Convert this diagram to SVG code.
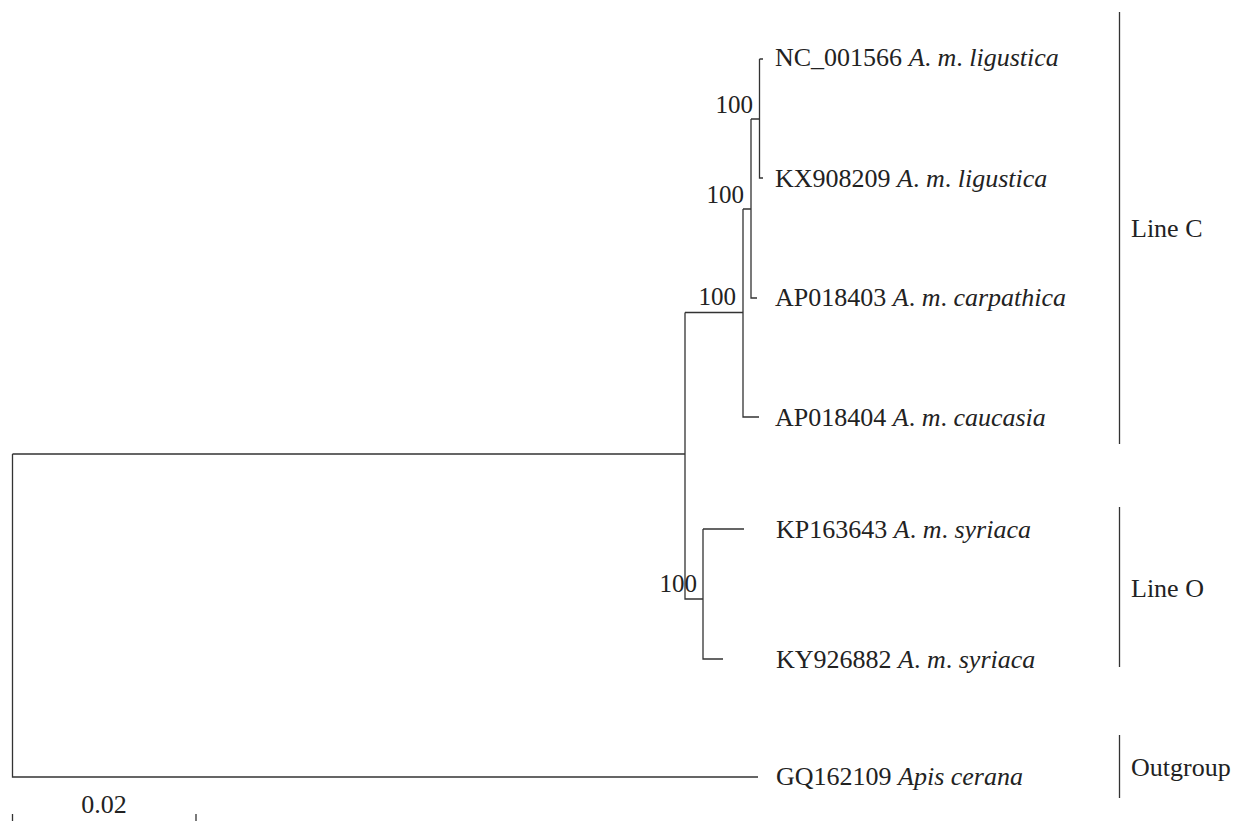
<svg xmlns="http://www.w3.org/2000/svg" width="1236" height="821" viewBox="0 0 1236 821">
<style>
.br{fill:none;stroke:#333;stroke-width:1.3}
.t{font-family:"Liberation Serif","Times New Roman",serif;font-size:26px;fill:#222}
.b{font-family:"Liberation Serif","Times New Roman",serif;font-size:25px;fill:#222;text-anchor:end}
.i{font-style:italic}
.gb{stroke:#333;stroke-width:1.3}
</style>
<rect width="1236" height="821" fill="#fff"/>
<g id="connectors">
<path class="br" d="M759.5,59 H763 M759.5,59 V178 H763"/>
<path class="br" d="M751,119 H759.5 M751,119 V298 H757"/>
<path class="br" d="M743,209 H751 M743,209 V417 H759"/>
<path class="br" d="M685,312.5 H743 M685,312.5 V599 H703"/>
<path class="br" d="M703,529 H744 M703,529 V659 H723"/>
<path class="br" d="M12.5,454 H685 M12.5,454 V777 H758"/>
</g>
<g id="support">
<text class="b" x="753" y="113">100</text>
<text class="b" x="744" y="203">100</text>
<text class="b" x="736" y="305">100</text>
<text class="b" x="697" y="592">100</text>
</g>
<g id="tip-NC_001566"><text class="t" x="775" y="66">NC_001566 <tspan class="i">A</tspan>. <tspan class="i">m</tspan>. <tspan class="i">ligustica</tspan></text></g>
<g id="tip-KX908209"><text class="t" x="775" y="187">KX908209 <tspan class="i">A</tspan>. <tspan class="i">m</tspan>. <tspan class="i">ligustica</tspan></text></g>
<g id="tip-AP018403"><text class="t" x="775" y="306">AP018403 <tspan class="i">A</tspan>. <tspan class="i">m</tspan>. <tspan class="i">carpathica</tspan></text></g>
<g id="tip-AP018404"><text class="t" x="775" y="426">AP018404 <tspan class="i">A</tspan>. <tspan class="i">m</tspan>. <tspan class="i">caucasia</tspan></text></g>
<g id="tip-KP163643"><text class="t" x="776" y="538">KP163643 <tspan class="i">A</tspan>. <tspan class="i">m</tspan>. <tspan class="i">syriaca</tspan></text></g>
<g id="tip-KY926882"><text class="t" x="776" y="668">KY926882 <tspan class="i">A</tspan>. <tspan class="i">m</tspan>. <tspan class="i">syriaca</tspan></text></g>
<g id="tip-GQ162109"><text class="t" x="776" y="785">GQ162109 <tspan class="i">Apis cerana</tspan></text></g>
<g id="group-lineC"><line class="gb" x1="1119.5" y1="12" x2="1119.5" y2="444"/><text class="t" x="1131" y="237">Line C</text></g>
<g id="group-lineO"><line class="gb" x1="1119.5" y1="507" x2="1119.5" y2="667"/><text class="t" x="1131" y="597">Line O</text></g>
<g id="group-outgroup"><line class="gb" x1="1119.5" y1="735" x2="1119.5" y2="798"/><text class="t" x="1131" y="776">Outgroup</text></g>
<g id="scale">
<line class="gb" x1="12.5" y1="814" x2="12.5" y2="821"/>
<line class="gb" x1="196" y1="814" x2="196" y2="821"/>
<text class="t" x="104" y="813" text-anchor="middle">0.02</text>
</g>
</svg>
